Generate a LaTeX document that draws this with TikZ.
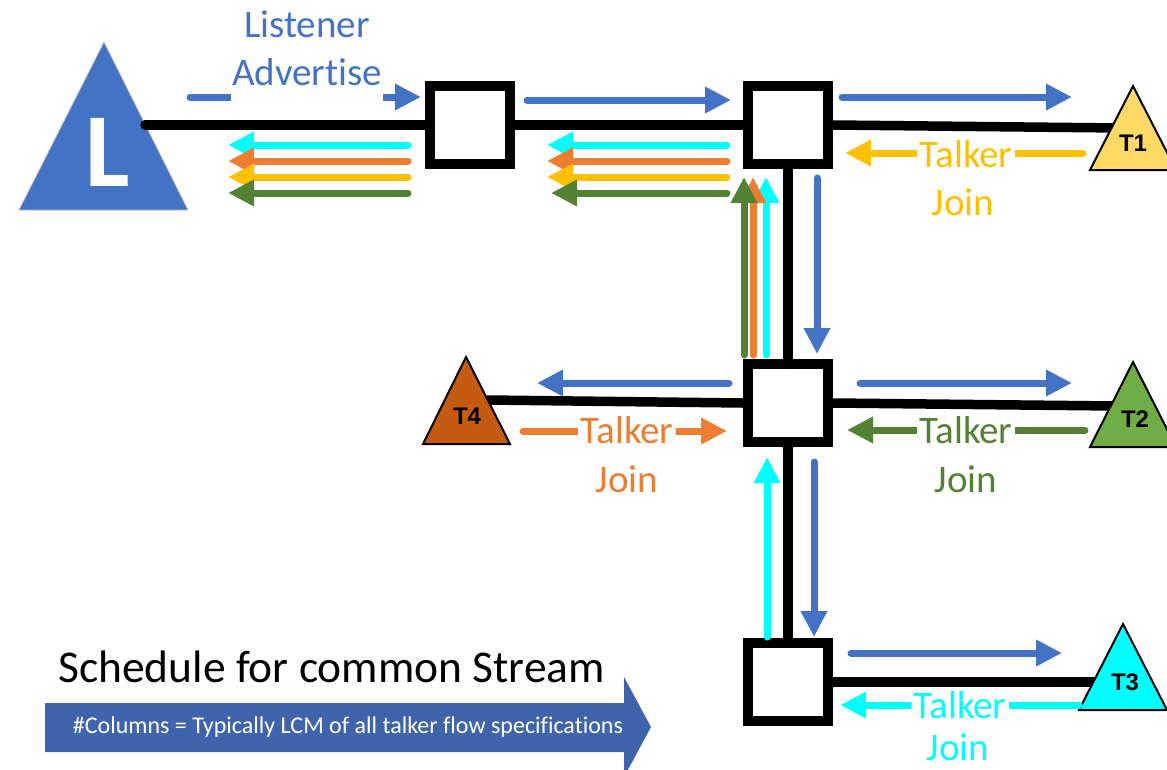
\documentclass[tikz,border=0pt]{standalone}
\usepackage{fontspec}
\setmainfont{Carlito}[Ligatures=NoCommon]
\newfontfamily\tagfont{Liberation Sans}
\usetikzlibrary{arrows.meta}

\definecolor{lblue}{HTML}{4472C4}
\definecolor{lorange}{HTML}{ED7D31}
\definecolor{lyellow}{HTML}{FFC000}
\definecolor{lgreen}{HTML}{548235}
\definecolor{lcyan}{HTML}{00FFFF}
\definecolor{tone}{HTML}{FFD966}
\definecolor{ttwo}{HTML}{70AD47}
\definecolor{tfour}{HTML}{C55A11}
\definecolor{schedblue}{HTML}{4064AC}

\pgfdeclarelayer{bg}
\pgfsetlayers{bg,main}

\tikzset{
  sw/.style={draw=black, line width=10pt, fill=white, minimum width=80pt,
    minimum height=78pt, inner sep=0pt},
  link/.style={black, line width=9.5pt, line cap=round},
  flow/.style={line width=7pt, line cap=round,
    -{Triangle[length=26pt,width=25pt]}},
  talker/.style={draw=black, line width=2pt, line join=miter},
  ttag/.style={font=\tagfont\bfseries\fontsize{24}{26}\selectfont, text=black, inner sep=0pt},
  lab/.style={font=\fontsize{39}{47}\selectfont, inner sep=0pt, anchor=base},
  labbox/.style={lab, fill=white, inner xsep=2pt},
}

\begin{document}
\begin{tikzpicture}[x=1pt,y=-1pt]
\useasboundingbox (0,0) rectangle (1167,769);

% switches
\node[sw] (s1) at (470,125) {};
\node[sw] (s2) at (788,125) {};
\node[sw] (s3) at (788,403) {};
\node[sw] (s4) at (788,682) {};

% end stations: ports where the links attach
\coordinate (lport) at (145,125);
\coordinate (t1port) at (1120,128);
\coordinate (t2port) at (1115,406);
\coordinate (t3port) at (1105,682);
\coordinate (t4port) at (488,400);

\begin{pgfonlayer}{bg}
  % listener
  \filldraw[fill=lblue, draw=black!25, line width=0.8pt] (19,210) -- (104,42) -- (188,210) -- cycle;
  % links
  \draw[link] (lport) -- (s1.west);
  \draw[link] (s1.east) -- (s2.west);
  \draw[link] (s2.east) -- (t1port);
  \draw[link] (s2.south) -- (s3.north);
  \draw[link] (t4port) -- (s3.west);
  \draw[link] (s3.east) -- (t2port);
  \draw[link] (s3.south) -- (s4.north);
  \draw[link] (s4.east) -- (t3port);
\end{pgfonlayer}

\node[font=\bfseries\fontsize{105}{110}\selectfont, text=white, inner sep=0pt] (L) at (108,152) {L};

% talkers
\filldraw[talker, fill=tone] (1090,170) -- (1133,86) -- (1176,170) -- cycle;
\node[ttag] (T1) at (1133,143) {T1};
\filldraw[talker, fill=ttwo] (1090,447) -- (1133,362) -- (1176,447) -- cycle;
\node[ttag] (T2) at (1135,419) {T2};
\filldraw[talker, fill=lcyan] (1079,710) -- (1123,624) -- (1167,710) -- cycle;
\node[ttag] (T3) at (1125,682) {T3};
\filldraw[talker, fill=tfour] (423,444) -- (466,357) -- (510,444) -- cycle;
\node[ttag] (T4) at (467,416) {T4};

% listener advertise (blue)
\draw[flow, lblue] (190,97) coordinate (la0) -- (421,97) coordinate (la1);
\draw[flow, lblue] (527,100) coordinate (la2) -- (731,100) coordinate (la3);
\draw[flow, lblue] (842,97) coordinate (la4) -- (1072,97) coordinate (la5);
\draw[flow, lblue] (817,178) coordinate (la6) -- (817,354) coordinate (la7);
\draw[flow, lblue] (729,383) coordinate (la8) -- (537,383) coordinate (la9);
\draw[flow, lblue] (860,383) coordinate (la10) -- (1072,383) coordinate (la11);
\draw[flow, lblue] (814,462) coordinate (la12) -- (814,637) coordinate (la13);
\draw[flow, lblue] (851,653) coordinate (la14) -- (1062,653) coordinate (la15);

% talker joins towards the listener
\draw[flow, lcyan]   (408,145) coordinate (ja0) -- (228,145) coordinate (ja1);
\draw[flow, lorange] (408,161) coordinate (ja2) -- (228,161) coordinate (ja3);
\draw[flow, lyellow] (408,177) coordinate (ja4) -- (228,177) coordinate (ja5);
\draw[flow, lgreen]  (408,193) coordinate (ja6) -- (228,193) coordinate (ja7);

\draw[flow, lcyan]   (727,145) coordinate (jb0) -- (547,145) coordinate (jb1);
\draw[flow, lorange] (727,161) coordinate (jb2) -- (547,161) coordinate (jb3);
\draw[flow, lyellow] (727,177) coordinate (jb4) -- (547,177) coordinate (jb5);
\draw[flow, lgreen]  (727,193) coordinate (jb6) -- (551,193) coordinate (jb7);

\draw[flow, lcyan]   (766,355) coordinate (jc0) -- (766,177) coordinate (jc1);
\draw[flow, lorange] (753,355) coordinate (jc2) -- (753,177) coordinate (jc3);
\draw[flow, lgreen]  (744,355) coordinate (jc4) -- (744,177) coordinate (jc5);

\draw[flow, lcyan]   (767,637) coordinate (jd0) -- (767,457) coordinate (jd1);

\draw[flow, lyellow] (1083,153) coordinate (j1a) -- (845,153) coordinate (j1b);
\draw[flow, lgreen]  (1085,430) coordinate (j2a) -- (847,430) coordinate (j2b);
\draw[flow, lorange] (523,431) coordinate (j4a) -- (727,431) coordinate (j4b);
\draw[flow, lcyan]   (1079,705) coordinate (j3a) -- (840,705) coordinate (j3b);

% labels
\node[lab, text=lblue] (lis) at (307,37) {Listener};
\node[labbox, text=lblue, text depth=17pt, inner xsep=1pt] (adv) at (307,85) {Advertise};

\node[labbox, text=lyellow] (tj1) at (966,167) {Talker};
\node[lab, text=lyellow] (jn1) at (963,215) {Join};
\node[labbox, text=lgreen] (tj2) at (966,443) {Talker};
\node[lab, text=lgreen] (jn2) at (966,492) {Join};
\node[labbox, text=lorange] (tj4) at (627,443) {Talker};
\node[lab, text=lorange] (jn4) at (627,492) {Join};
\node[labbox, text=lcyan] (tj3) at (960,718) {Talker};
\node[lab, text=lcyan] (jn3) at (958,760) {Join};

% schedule
\node[anchor=base west, inner sep=0pt, font=\fontsize{45.5}{52}\selectfont] (sched) at (58,682) {Schedule for common Stream};
\fill[schedblue] (45,703) -- (624,703) -- (624,677) -- (651,727) -- (624,777) -- (624,752) -- (45,752) -- cycle;
\node[text=white, inner sep=0pt, font=\fontsize{24}{28}\selectfont] (cols) at (348,727) {\#Columns = Typically LCM of all talker flow specifications};
\end{tikzpicture}
\end{document}
